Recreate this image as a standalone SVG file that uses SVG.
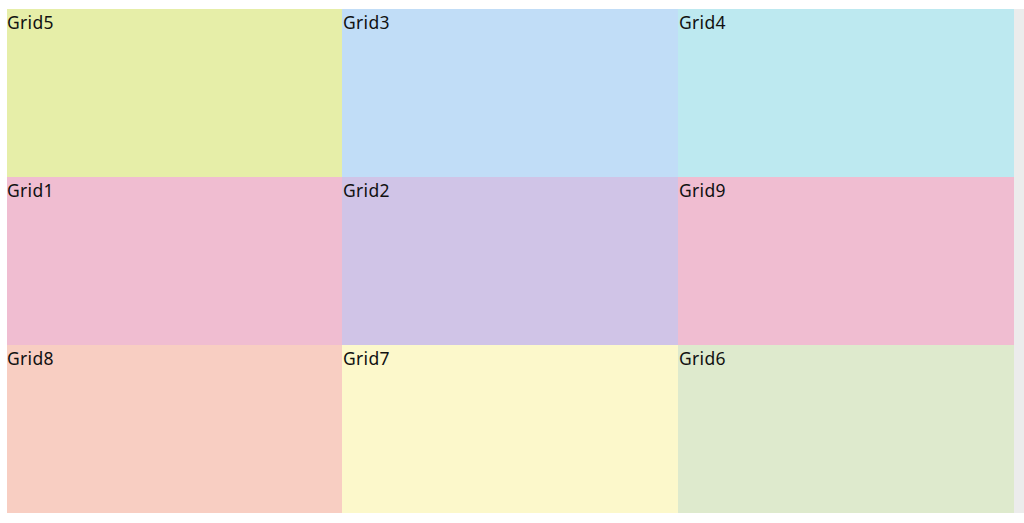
<svg xmlns="http://www.w3.org/2000/svg" width="1024" height="523" viewBox="0 0 1024 523">
<style>
text{font-family:"Noto Sans","Liberation Sans",sans-serif;font-size:17.5px;letter-spacing:0.3px;fill:#111}
</style>
<rect x="0" y="0" width="1024" height="523" fill="#ffffff"/>
<rect x="1014" y="9" width="10" height="504" fill="#ececec"/>
<g id="grid5"><rect x="7" y="9" width="335" height="168" fill="#e6eea8"/><text x="7" y="29">Grid5</text></g>
<g id="grid3"><rect x="342" y="9" width="336" height="168" fill="#c1ddf7"/><text x="343" y="29">Grid3</text></g>
<g id="grid4"><rect x="678" y="9" width="336" height="168" fill="#bde9f0"/><text x="679" y="29">Grid4</text></g>
<g id="grid1"><rect x="7" y="177" width="335" height="168" fill="#f0bdd1"/><text x="7" y="197">Grid1</text></g>
<g id="grid2"><rect x="342" y="177" width="336" height="168" fill="#d0c4e7"/><text x="343" y="197">Grid2</text></g>
<g id="grid9"><rect x="678" y="177" width="336" height="168" fill="#f0bdd1"/><text x="679" y="197">Grid9</text></g>
<g id="grid8"><rect x="7" y="345" width="335" height="168" fill="#f8cec2"/><text x="7" y="365">Grid8</text></g>
<g id="grid7"><rect x="342" y="345" width="336" height="168" fill="#fcf8cb"/><text x="343" y="365">Grid7</text></g>
<g id="grid6"><rect x="678" y="345" width="336" height="168" fill="#deeacd"/><text x="679" y="365">Grid6</text></g>
<g id="connectors"/>
</svg>
